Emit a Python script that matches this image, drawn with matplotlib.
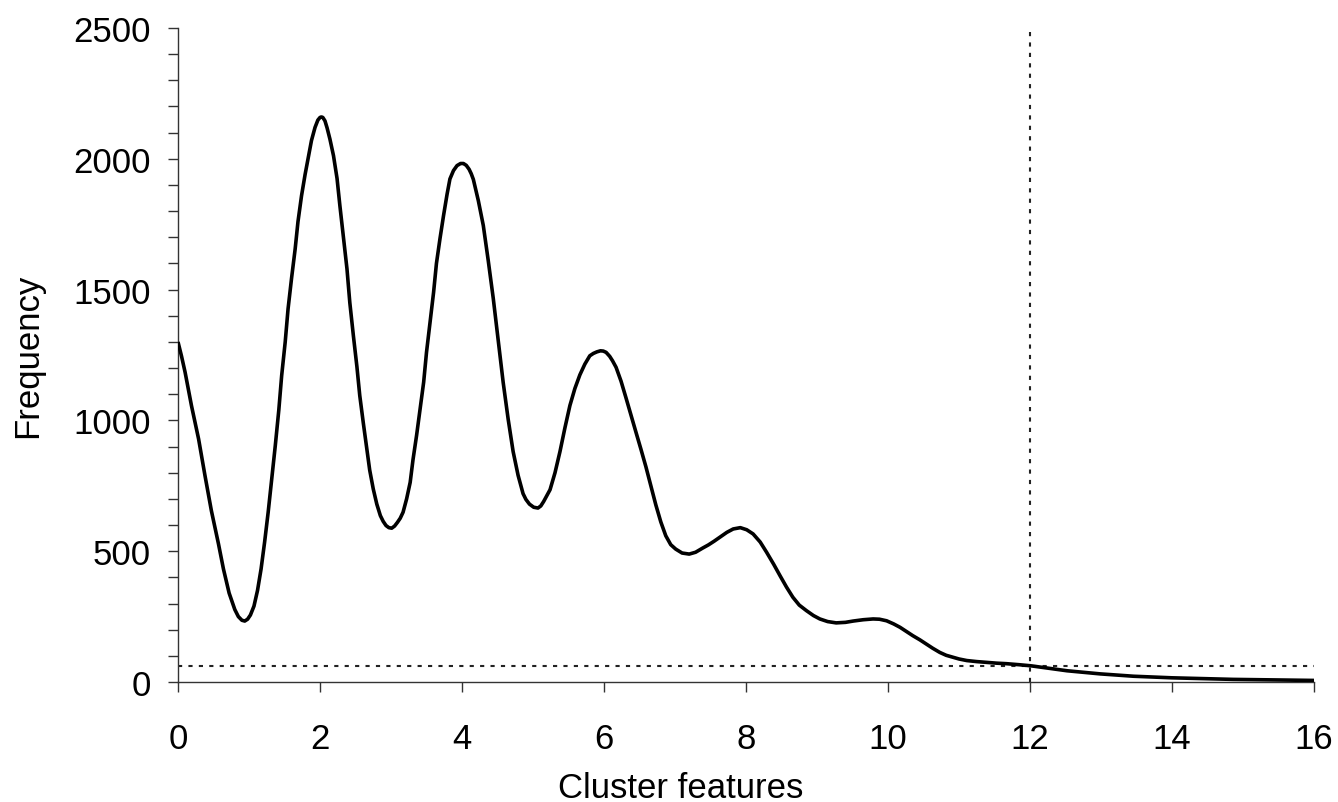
import matplotlib
matplotlib.use("Agg")
import matplotlib.pyplot as plt
from matplotlib.ticker import MultipleLocator

# Frequency distribution of cluster features
cluster_features = [
    0.00, 0.05, 0.10, 0.19, 0.29, 0.38, 0.47, 0.57, 0.64, 0.72, 0.80, 0.85,
    0.90, 0.94, 0.98, 1.02, 1.07, 1.12, 1.17, 1.22, 1.27, 1.32, 1.37, 1.42,
    1.46, 1.51, 1.55, 1.60, 1.65, 1.69, 1.74, 1.79, 1.84, 1.88, 1.93, 1.97,
    2.00, 2.02, 2.04, 2.07, 2.10, 2.14, 2.19, 2.24, 2.28, 2.33, 2.38, 2.42,
    2.47, 2.52, 2.56, 2.61, 2.66, 2.70, 2.75, 2.80, 2.85, 2.89, 2.93, 2.97,
    3.01, 3.05, 3.09, 3.13, 3.17, 3.22, 3.27, 3.31, 3.36, 3.41, 3.46, 3.50,
    3.55, 3.60, 3.64, 3.69, 3.74, 3.79, 3.83, 3.88, 3.93, 3.98, 4.02, 4.06,
    4.10, 4.13, 4.16, 4.23, 4.30, 4.37, 4.44, 4.51, 4.58, 4.65, 4.72, 4.79,
    4.86, 4.90, 4.95, 5.01, 5.07, 5.11, 5.15, 5.19, 5.24, 5.31, 5.38, 5.45,
    5.52, 5.59, 5.66, 5.73, 5.80, 5.85, 5.90, 5.95, 5.99, 6.03, 6.08, 6.12,
    6.17, 6.24, 6.31, 6.38, 6.45, 6.52, 6.59, 6.66, 6.73, 6.80, 6.87, 6.94,
    7.01, 7.10, 7.20, 7.29, 7.39, 7.47, 7.55, 7.64, 7.73, 7.82, 7.92, 8.01,
    8.10, 8.20, 8.29, 8.39, 8.48, 8.57, 8.66, 8.75, 8.85, 8.95, 9.04, 9.15,
    9.27, 9.40, 9.51, 9.65, 9.79, 9.88, 9.98, 10.08, 10.17, 10.26, 10.35,
    10.45, 10.54, 10.63, 10.73, 10.82, 10.92, 11.00, 11.11, 11.25, 11.39,
    11.53, 11.67, 11.85, 12.01, 12.28, 12.52, 12.75, 12.99, 13.46, 14.00,
    14.86, 16.00,
]
frequency = [
    1300, 1245, 1184, 1056, 929, 789, 655, 528, 432, 340, 277, 250,
    236, 233, 240, 256, 290, 350, 432, 535, 649, 775, 903, 1040,
    1171, 1300, 1426, 1545, 1655, 1760, 1859, 1940, 2012, 2070, 2120, 2148,
    2158, 2160, 2158, 2145, 2118, 2075, 2012, 1925, 1821, 1700, 1579, 1450,
    1324, 1205, 1095, 990, 891, 810, 738, 680, 636, 614, 598, 590,
    588, 596, 610, 626, 649, 700, 763, 850, 942, 1045, 1146, 1260,
    1375, 1490, 1600, 1695, 1783, 1865, 1923, 1955, 1974, 1982, 1982, 1975,
    1960, 1943, 1921, 1840, 1745, 1610, 1467, 1305, 1145, 1005, 881, 790,
    720, 698, 680, 668, 665, 673, 690, 710, 735, 800, 881, 972,
    1057, 1122, 1174, 1215, 1247, 1256, 1262, 1266, 1265, 1260, 1245, 1228,
    1203, 1150, 1086, 1020, 955, 890, 823, 750, 677, 612, 559, 525,
    508, 493, 489, 496, 512, 524, 538, 555, 572, 585, 590, 582,
    566, 535, 496, 450, 406, 363, 324, 294, 273, 254, 241, 231,
    226, 228, 233, 238, 241, 240, 234, 222, 209, 193, 177,
    161, 145, 129, 113, 102, 94, 88, 82, 78, 75,
    72, 70, 66, 62, 52, 43, 37, 31, 22, 16,
    10, 6,
]

threshold_frequency = 63
threshold_feature = 12

x_ticks = [0, 2, 4, 6, 8, 10, 12, 14, 16]
y_ticks = [0, 500, 1000, 1500, 2000, 2500]

plt.rcParams["font.family"] = ["Liberation Sans", "DejaVu Sans"]

fig = plt.figure(figsize=(13.38, 8.03), dpi=100)
W, H = 1338, 803
ax = fig.add_axes([178 / W, (H - 683) / H, (1314 - 178) / W, (683 - 29) / H])

ax.plot(cluster_features, frequency, color="black", lw=2.6,
        solid_joinstyle="round", solid_capstyle="butt", zorder=3)

ax.axhline(threshold_frequency, color="#222222", lw=1.5,
           linestyle=(0, (2, 3)), zorder=2)
ax.axvline(threshold_feature, color="#222222", lw=1.5,
           linestyle=(0, (2, 3)), zorder=2)

ax.set_xlim(0, 16)
ax.set_ylim(0, 2500)
ax.set_xticks(x_ticks)
ax.set_yticks(y_ticks)
ax.yaxis.set_minor_locator(MultipleLocator(100))

for side in ("top", "right"):
    ax.spines[side].set_visible(False)
for side in ("left", "bottom"):
    ax.spines[side].set_linewidth(1.0)
    ax.spines[side].set_color("#333333")

ax.tick_params(axis="both", which="major", direction="out", length=7.5,
               width=1.0, color="#333333", labelsize=25, labelcolor="black")
ax.tick_params(axis="y", which="minor", direction="out", length=7.5,
               width=1.0, color="#333333")
ax.tick_params(axis="y", which="major", pad=12)
ax.tick_params(axis="x", which="major", pad=21)

fig.text(11 / W, (H - 356) / H, "Frequency", rotation=90, fontsize=25,
         ha="left", va="center")
fig.text(681 / W, (H - 772) / H, "Cluster features", fontsize=25,
         ha="center", va="top")

fig.savefig("out.png", dpi=100)
